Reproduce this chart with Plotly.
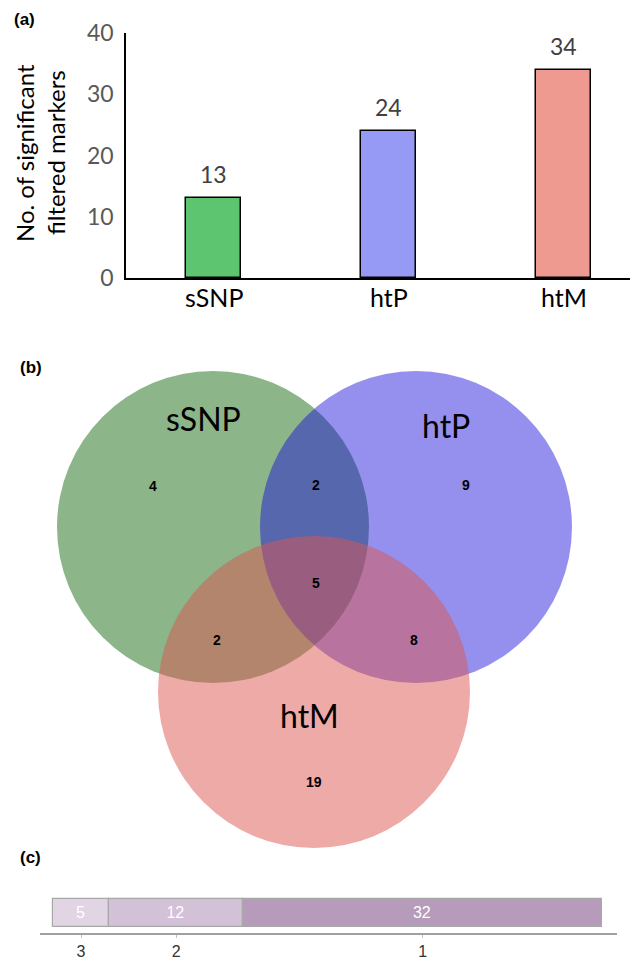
import plotly.graph_objects as go

W, H = 638, 959
OFF = 8  # page body margin offset

# ---------------- data ----------------
# (a) bar chart
bar_categories = ["sSNP", "htP", "htM"]
bar_values = [13, 24, 34]
bar_colors = ["#5dc56f", "#979af5", "#ee9a90"]
y_ticks = [0, 10, 20, 30, 40]
y_title_lines = ["No. of significant", "filtered markers"]

# (b) Venn diagram counts
venn_sets = ["sSNP", "htP", "htM"]
venn_region_keys = ["sSNP", "sSNP&htP", "htP", "sSNP&htP&htM", "sSNP&htM", "htP&htM", "htM"]
venn_region_counts = [4, 2, 9, 5, 2, 8, 19]

# (c) shared-marker stacked bar
shared_categories = ["3", "2", "1"]
shared_values = [5, 12, 32]
shared_colors = ["#e1d4e3", "#d3c1d7", "#b69bba"]

# ---------------- layout helpers ----------------
def fx(px):  # screen pixel from left -> paper fraction
    return (px - OFF) / W

def py(px):  # screen pixel from top -> paper fraction
    return 1 - (px - OFF) / H

fig = go.Figure()

# ---- (a) ----
fig.add_trace(go.Bar(
    x=list(range(len(bar_categories))), y=bar_values,
    marker=dict(color=bar_colors, line=dict(color="black", width=1.5)),
    width=0.315, xaxis="x", yaxis="y", hoverinfo="skip", showlegend=False,
))
for i, v in enumerate(bar_values):
    fig.add_annotation(x=i, y=v, xref="x", yref="y", text=str(v), showarrow=False,
                       yanchor="bottom", yshift=8,
                       font=dict(family="Lato", size=23, color="#404040"))
for i, c in enumerate(bar_categories):
    fig.add_annotation(x=i, y=0, xref="x", yref="y", text=c, showarrow=False,
                       yanchor="middle", yshift=-19,
                       font=dict(family="Lato", size=25, color="black"))

# ---- (b) Venn ----
venn_geom = {  # circle centres / radius in screen pixel units
    "sSNP": (213, 527), "htP": (416, 527), "htM": (314, 692),
}
venn_radius = 156
venn_fill = {
    "sSNP": "rgba(25,107,21,0.5)",
    "htP": "rgba(20,9,218,0.45)",
    "htM": "rgba(220,85,80,0.5)",
}
for s in venn_sets:
    cx, cy = venn_geom[s]
    fig.add_shape(type="circle", xref="x2", yref="y2",
                  x0=cx - venn_radius, x1=cx + venn_radius,
                  y0=cy - venn_radius, y1=cy + venn_radius,
                  fillcolor=venn_fill[s], line=dict(width=0), layer="above")

set_label_pos = {"sSNP": (203, 418), "htP": (446, 425), "htM": (309, 715)}
for s in venn_sets:
    x, y = set_label_pos[s]
    fig.add_annotation(x=x, y=y, xref="x2", yref="y2", text=s, showarrow=False,
                       font=dict(family="Lato", size=32, color="black"))

region_pos = {
    "sSNP": (153, 486), "sSNP&htP": (316, 485), "htP": (466, 485),
    "sSNP&htP&htM": (316, 583), "sSNP&htM": (217, 640), "htP&htM": (414, 640),
    "htM": (314, 782),
}
for k, c in zip(venn_region_keys, venn_region_counts):
    x, y = region_pos[k]
    fig.add_annotation(x=x, y=y, xref="x2", yref="y2", text=f"<b>{c}</b>", showarrow=False,
                       font=dict(family="Liberation Sans", size=14, color="black"))

# ---- (c) stacked bar ----
bases = []
acc = 0
for v in shared_values:
    bases.append(acc)
    acc += v
centres = [b + v / 2 for b, v in zip(bases, shared_values)]
fig.add_trace(go.Bar(
    x=shared_values, y=[0.5] * len(shared_values), base=bases, orientation="h",
    marker=dict(color=shared_colors, line=dict(color="#a8a8a8", width=1.2)),
    width=0.7, text=[str(v) for v in shared_values], textposition="inside",
    insidetextanchor="middle",
    textfont=dict(family="Liberation Sans Narrow, Liberation Sans", size=16, color="white"),
    xaxis="x3", yaxis="y3", hoverinfo="skip", showlegend=False,
))

# ---- panel letters ----
for txt, x, y in [("(a)", 12, 20), ("(b)", 18, 367), ("(c)", 18, 857)]:
    fig.add_annotation(x=fx(x), y=py(y), xref="paper", yref="paper",
                       xanchor="left", yanchor="middle",
                       text=f"<b>{txt}</b>", showarrow=False,
                       font=dict(family="Liberation Sans", size=17, color="black"))

# y title of (a), one annotation per line
for line, xc in zip(y_title_lines, [24, 55]):
    fig.add_annotation(x=fx(xc), y=py(153), xref="paper", yref="paper",
                       xanchor="center", yanchor="middle", borderpad=0,
                       text=line, textangle=-90, showarrow=False,
                       font=dict(family="Lato", size=24, color="black"))

fig.update_layout(
    template="none",
    width=W, height=H, margin=dict(l=0, r=0, t=0, b=0, pad=0),
    paper_bgcolor="white", plot_bgcolor="white",
    bargap=0,
    xaxis=dict(domain=[fx(126), 1], range=[-0.5, (W + OFF - 126) / 175 - 0.5], automargin=False,
               tickvals=list(range(len(bar_categories))), showticklabels=False,
               showline=True, linecolor="black", linewidth=1.5, ticks="",
               showgrid=False, zeroline=False),
    yaxis=dict(domain=[py(278), py(33)], range=[0, 40], tickvals=y_ticks, automargin=False,
               showline=True, linecolor="black", linewidth=1.5, ticks="",
               showgrid=False, zeroline=False, ticklabelstandoff=6,
               tickfont=dict(family="Lato", size=23, color="#595959")),
    xaxis2=dict(domain=[0, 1], range=[OFF, W + OFF], visible=False, anchor="y2", automargin=False),
    yaxis2=dict(domain=[py(860), py(330)], range=[860, 330], visible=False, anchor="x2",
                automargin=False),
    xaxis3=dict(domain=[fx(40), fx(617)], range=[-1.16, 50.34], anchor="y3", automargin=False,
                tickvals=centres, ticktext=shared_categories,
                showline=True, linecolor="#a0a0a0", linewidth=2,
                ticks="outside", ticklen=3, tickcolor="#c0c0c0", tickwidth=1,
                showgrid=False, zeroline=False,
                tickfont=dict(family="Liberation Sans Narrow, Liberation Sans", size=16, color="#333")),
    yaxis3=dict(domain=[py(933), py(893)], range=[0, 1], visible=False, anchor="x3",
                automargin=False),
)

fig.write_html("out.html")
